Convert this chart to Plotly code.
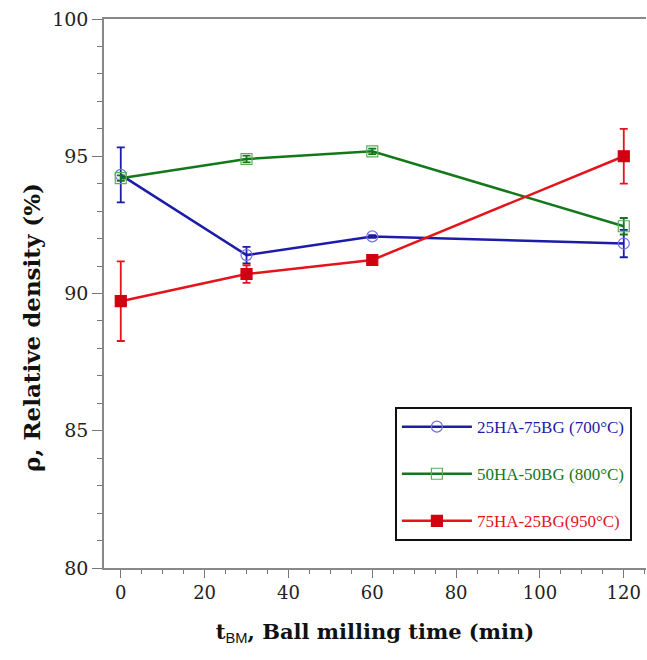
import plotly.graph_objects as go

t_bm = [0, 30, 60, 120]

names = ["25HA-75BG (700°C)", "50HA-50BG (800°C)", "75HA-25BG(950°C)"]
rho_25 = [94.32, 91.40, 92.08, 91.82]
err_25 = [1.0, 0.3, 0.05, 0.5]
rho_50 = [94.2, 94.9, 95.18, 92.45]
err_50 = [0.1, 0.12, 0.1, 0.3]
rho_75 = [89.72, 90.71, 91.22, 95.0]
err_75 = [1.45, 0.32, 0.05, 1.0]

line_colors = ["#1c1ca8", "#12781a", "#e3141c"]
marker_line_colors = ["#6f6fe6", "#5aae5a", "#d00010"]
marker_symbols = ["circle-open", "square-open", "square"]
series = [rho_25, rho_50, rho_75]
errors = [err_25, err_50, err_75]

serif = "Liberation Serif"
wide_serif = "DejaVu Serif"
fig = go.Figure()
for i in range(3):
    fig.add_trace(go.Scatter(
        x=t_bm, y=series[i],
        mode="lines+markers",
        name=f"<span style='color:{line_colors[i]}'>{names[i]}</span>",
        legendgroup=str(i),
        line=dict(color=line_colors[i], width=2.5),
        marker=dict(symbol=marker_symbols[i], size=11,
                    color=marker_line_colors[i],
                    line=dict(color=marker_line_colors[i], width=1.2)),
        error_y=dict(type="data", array=errors[i], visible=True,
                     color=line_colors[i], thickness=1.8, width=4),
    ))

fig.add_annotation(
    text="ρ, Relative density (%)", textangle=-90,
    xref="paper", yref="paper", x=-0.133, y=0.439,
    xanchor="center", yanchor="middle", showarrow=False,
    font=dict(family=wide_serif, size=23, color="#111", weight="bold"),
)

fig.update_layout(
    width=647, height=660,
    margin=dict(l=104, r=1, t=19, b=92),
    paper_bgcolor="white", plot_bgcolor="white",
    font=dict(family=serif, size=18, color="#222"),
    showlegend=True,
    legend=dict(
        x=0.974, y=0.049, xanchor="right", yanchor="bottom",
        bgcolor="white", bordercolor="#111", borderwidth=2,
        font=dict(family=serif, size=17),
        tracegroupgap=22,
        itemwidth=70,
    ),
    xaxis=dict(
        range=[-4, 125.3], tickmode="array", tickvals=[0, 20, 40, 60, 80, 100, 120],
        ticks="outside", ticklen=8, tickwidth=1, tickcolor="#777",
        minor=dict(dtick=5, ticks="outside", ticklen=4, tickcolor="#777"),
        showline=True, linecolor="#888", linewidth=1.5, mirror=True,
        showgrid=False, zeroline=False,
        tickfont=dict(family=wide_serif, size=18, color="#222"),
        title=dict(text="t<sub><span style='font-family:Liberation Sans;font-weight:normal'>BM</span></sub>, Ball milling time (min)",
                   font=dict(family=wide_serif, size=21, color="#111", weight="bold"), standoff=22),
    ),
    yaxis=dict(
        range=[80, 100], tickmode="array", tickvals=[80, 85, 90, 95, 100],
        ticks="outside", ticklen=10, tickwidth=1, tickcolor="#777",
        minor=dict(dtick=1, ticks="outside", ticklen=5, tickcolor="#777"),
        showline=True, linecolor="#888", linewidth=1.5,
        showgrid=False, zeroline=False,
        tickfont=dict(family=wide_serif, size=19, color="#222"),
    ),
)

fig.write_html("out.html")
